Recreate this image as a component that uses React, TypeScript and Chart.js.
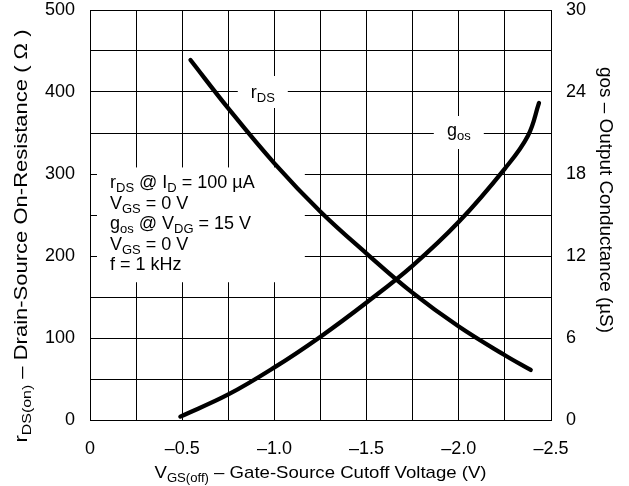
import React, { useEffect, useRef } from 'react';
import { Chart, registerables } from 'chart.js';

Chart.register(...registerables);

// ---- data ----
const rdsVoltage = [-0.545, -0.75, -1.0, -1.25, -1.5, -1.75, -2.0, -2.25, -2.39];
const rdsOhms = [439, 380, 313, 254, 203, 155, 114, 79, 61];

const gosVoltage = [-0.49, -0.75, -1.0, -1.25, -1.5, -1.75, -2.0, -2.25, -2.375, -2.435];
const gosMicroSiemens = [0.25, 1.87, 3.85, 6.1, 8.6, 11.3, 14.5, 18.4, 20.8, 23.2];

const xTickValues = [0, -0.5, -1.0, -1.5, -2.0, -2.5];
const xTickLabels = ['0', '\u20130.5', '\u20131.0', '\u20131.5', '\u20132.0', '\u20132.5'];
const yLeftTickValues = [0, 100, 200, 300, 400, 500];
const yRightTickValues = [0, 6, 12, 18, 24, 30];

const FONT = "'Liberation Sans', Arial, Helvetica, sans-serif";
const TICK = 18;
const SUB_SHIFT = 4;

type Seg = { t: string; sub?: boolean };

const annotationLines: Seg[][] = [
  [{ t: 'r' }, { t: 'DS', sub: true }, { t: ' @ I' }, { t: 'D', sub: true }, { t: ' = 100 \u00b5A' }],
  [{ t: 'V' }, { t: 'GS', sub: true }, { t: ' = 0 V' }],
  [{ t: 'g' }, { t: 'os', sub: true }, { t: ' @ V' }, { t: 'DG', sub: true }, { t: ' = 15 V' }],
  [{ t: 'V' }, { t: 'GS', sub: true }, { t: ' = 0 V' }],
  [{ t: 'f = 1 kHz' }],
];
const rdsLabel: Seg[] = [{ t: 'r' }, { t: 'DS', sub: true }];
const gosLabel: Seg[] = [{ t: 'g' }, { t: 'os', sub: true }];
const leftTitle: Seg[] = [
  { t: 'r' },
  { t: 'DS(on)', sub: true },
  { t: ' \u2013 Drain-Source On-Resistance ( \u03a9 )' },
];
const rightTitle: Seg[] = [{ t: 'gos \u2013 Output Conductance (\u00b5S)' }];
const xTitle: Seg[] = [
  { t: 'V' },
  { t: 'GS(off)', sub: true },
  { t: ' \u2013 Gate-Source Cutoff Voltage (V)' },
];

function segFont(size: number, sub?: boolean) {
  return `${sub ? Math.round(size * 0.72) : size}px ${FONT}`;
}
function measureRich(ctx: CanvasRenderingContext2D, segs: Seg[], size: number) {
  let w = 0;
  for (const s of segs) {
    ctx.font = segFont(size, s.sub);
    w += ctx.measureText(s.t).width;
  }
  return w;
}
function drawRich(
  ctx: CanvasRenderingContext2D,
  segs: Seg[],
  x: number,
  y: number,
  align: 'left' | 'center',
  size: number
) {
  const w = measureRich(ctx, segs, size);
  let cx = align === 'center' ? x - w / 2 : x;
  ctx.textAlign = 'left';
  ctx.textBaseline = 'alphabetic';
  ctx.fillStyle = '#000';
  for (const s of segs) {
    ctx.font = segFont(size, s.sub);
    ctx.fillText(s.t, cx, y + (s.sub ? SUB_SHIFT : 0));
    cx += ctx.measureText(s.t).width;
  }
}
// draws centred text whose length along its direction is stretched to `len`
function drawFitted(
  ctx: CanvasRenderingContext2D,
  segs: Seg[],
  x: number,
  y: number,
  angle: number,
  len: number,
  size: number
) {
  const w = measureRich(ctx, segs, size);
  ctx.save();
  ctx.translate(x, y);
  ctx.rotate(angle);
  ctx.scale(len / w, 1);
  drawRich(ctx, segs, 0, 0, 'center', size);
  ctx.restore();
}

const labelsPlugin = {
  id: 'labelsPlugin',
  beforeDatasetsDraw(chart: any) {
    const { ctx, chartArea } = chart;
    const xs = chart.scales.x;
    const ys = chart.scales.y;
    ctx.save();
    ctx.fillStyle = '#fff';
    // annotation box
    const bx0 = chartArea.left + 7;
    const bx1 = xs.getPixelForValue(-1.165);
    const by0 = ys.getPixelForValue(308);
    const by1 = ys.getPixelForValue(168);
    ctx.fillRect(bx0, by0, bx1 - bx0, by1 - by0);
    // rDS label box
    const rx = xs.getPixelForValue(-0.937);
    const ry = ys.getPixelForValue(400);
    ctx.fillStyle = '#fff';
    ctx.fillRect(rx - 25, ry - 16, 50, 32);
    // gos label box
    const gx = xs.getPixelForValue(-2.0);
    const gy = ys.getPixelForValue(350);
    ctx.fillStyle = '#fff';
    ctx.fillRect(gx - 25, gy - 17, 50, 33);

    drawRich(ctx, rdsLabel, rx, ry + 6, 'center', 18);
    drawRich(ctx, gosLabel, gx, gy + 3, 'center', 18);

    let by = ys.getPixelForValue(283);
    for (const line of annotationLines) {
      drawRich(ctx, line, chartArea.left + 20, by, 'left', 18);
      by += 20.6;
    }
    ctx.restore();
  },
  afterDraw(chart: any) {
    const { ctx, chartArea } = chart;
    ctx.save();
    drawFitted(ctx, leftTitle, 27, 236, -Math.PI / 2, 413, 18);
    drawFitted(ctx, rightTitle, 600, 200, Math.PI / 2, 266, 18);
    drawFitted(ctx, xTitle, (chartArea.left + chartArea.right) / 2, 478, 0, 332, 17);
    ctx.restore();
  },
};

function near(a: number, b: number) {
  return Math.abs(a - b) < 1e-6;
}

export default function App() {
  const ref = useRef<HTMLCanvasElement | null>(null);

  useEffect(() => {
    if (!ref.current) return;
    const tickFont = { family: FONT, size: TICK };
    const lineStyle = {
      showLine: true,
      borderColor: '#000',
      backgroundColor: '#000',
      borderWidth: 4.3,
      pointRadius: 0,
      tension: 0.4,
      borderCapStyle: 'round',
      borderJoinStyle: 'round',
      fill: false,
    };
    const chart = new Chart(ref.current, {
      type: 'scatter',
      data: {
        datasets: [
          {
            label: 'rDS',
            data: rdsVoltage.map((v, i) => ({ x: v, y: rdsOhms[i] })),
            yAxisID: 'y',
            ...lineStyle,
          },
          {
            label: 'gos',
            data: gosVoltage.map((v, i) => ({ x: v, y: gosMicroSiemens[i] })),
            yAxisID: 'y2',
            ...lineStyle,
          },
        ],
      },
      options: {
        responsive: false,
        animation: false,
        devicePixelRatio: 1,
        layout: { padding: { top: 10, left: 0, right: 0, bottom: 0 } },
        plugins: {
          legend: { display: false },
          tooltip: { enabled: false },
          title: { display: false },
        },
        scales: {
          x: {
            type: 'linear',
            position: 'bottom',
            reverse: true,
            min: -2.5,
            max: 0,
            grid: { color: '#000', lineWidth: 1, drawTicks: false },
            border: { color: '#000', width: 1 },
            ticks: {
              stepSize: 0.25,
              autoSkip: false,
              maxRotation: 0,
              padding: 18,
              color: '#000',
              font: tickFont,
              callback: (value: any) => {
                const v = Number(value);
                const idx = xTickValues.findIndex((t) => near(t, v));
                return idx >= 0 ? xTickLabels[idx] : '';
              },
            },
            afterFit: (s: any) => {
              s.height = 66;
              s.paddingLeft = 0;
              s.paddingRight = 0;
            },
          },
          y: {
            type: 'linear',
            position: 'left',
            min: 0,
            max: 500,
            grid: { color: '#000', lineWidth: 1, drawTicks: false },
            border: { color: '#000', width: 1 },
            ticks: {
              stepSize: 50,
              autoSkip: false,
              padding: 15,
              color: '#000',
              font: tickFont,
              callback: (value: any) => {
                const v = Number(value);
                return yLeftTickValues.some((t) => near(t, v)) ? String(v) : '';
              },
            },
            afterFit: (s: any) => {
              s.width = 90;
              s.paddingTop = 0;
              s.paddingBottom = 0;
            },
          },
          y2: {
            type: 'linear',
            position: 'right',
            min: 0,
            max: 30,
            grid: { display: false, drawTicks: false },
            border: { display: true, color: '#000', width: 1 },
            ticks: {
              stepSize: 6,
              autoSkip: false,
              padding: 15,
              color: '#000',
              font: tickFont,
              callback: (value: any) => {
                const v = Number(value);
                return yRightTickValues.some((t) => near(t, v)) ? String(v) : '';
              },
            },
            afterFit: (s: any) => {
              s.width = 78;
              s.paddingTop = 0;
              s.paddingBottom = 0;
            },
          },
        },
      },
      plugins: [labelsPlugin],
    } as any);
    return () => chart.destroy();
  }, []);

  return (
    <div
      style={{
        position: 'fixed',
        left: 0,
        top: 0,
        width: 629,
        height: 486,
        background: '#fff',
      }}
    >
      <canvas ref={ref} width={629} height={486} style={{ display: 'block' }} />
    </div>
  );
}
